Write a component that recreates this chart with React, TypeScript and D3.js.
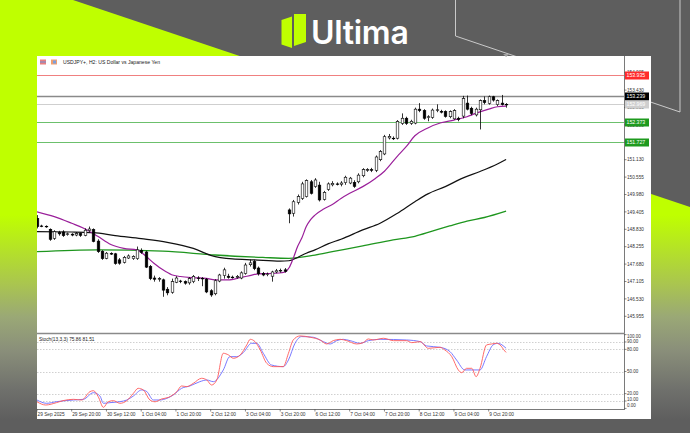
import React, { useEffect, useRef } from "react"
import * as d3 from "d3"

const WIDTH = 690
const HEIGHT = 433

// H2 bars from 29 Sep 04:00 to 10 Oct 04:00
const opens = [
    149.19, 148.94, 148.93, 148.83, 148.53, 148.72, 148.74, 148.66, 148.67, 148.64,
    148.69, 148.63, 148.79, 148.82, 148.44, 148.10, 147.87, 148.03, 148.02, 147.82,
    147.74, 147.88, 147.86, 147.86, 148.13, 148.08, 147.60, 147.22, 147.18, 147.16,
    146.85, 146.75, 147.08, 147.12, 147.10, 147.06, 147.10, 147.22, 147.21, 147.18,
    146.80, 146.70, 147.12, 147.30, 147.28, 147.25, 147.24, 147.22, 147.37, 147.66,
    147.76, 147.55, 147.37, 147.33, 147.28, 147.42, 147.45, 147.49, 149.47, 149.36,
    149.72, 149.85, 149.91, 150.40, 150.24, 150.29, 149.82, 150.15, 150.30, 150.33,
    150.32, 150.37, 150.36, 150.38, 150.40, 150.60, 150.79, 150.80, 150.78, 151.13,
    151.32, 151.85, 151.84, 151.84, 152.33, 152.50, 152.33, 152.34, 152.80, 152.75,
    152.52, 152.53, 152.76, 152.73, 152.72, 152.55, 152.48, 152.50, 152.57, 153.00,
    152.83, 152.61, 152.78, 153.08, 152.99, 153.21, 152.95, 153.00, 152.96,
]
const highs = [
    149.30, 148.98, 148.96, 148.86, 148.80, 148.78, 148.80, 148.72, 148.70, 148.74,
    148.72, 148.86, 148.92, 148.86, 148.50, 148.14, 148.08, 148.07, 148.05, 147.88,
    147.95, 148.00, 147.97, 148.26, 148.20, 148.12, 147.65, 147.30, 147.25, 147.20,
    146.92, 147.20, 147.28, 147.16, 147.14, 147.25, 147.32, 147.28, 147.25, 147.22,
    146.85, 147.18, 147.36, 147.56, 147.36, 147.30, 147.32, 147.44, 147.72, 147.83,
    147.82, 147.60, 147.42, 147.40, 147.46, 147.52, 147.53, 147.55, 149.52, 149.80,
    149.98, 150.40, 150.48, 150.46, 150.52, 150.40, 150.10, 150.38, 150.42, 150.38,
    150.42, 150.60, 150.56, 150.45, 150.68, 150.85, 150.85, 150.86, 151.27, 151.45,
    151.95, 151.98, 151.90, 152.44, 152.66, 152.55, 152.45, 152.85, 153.00, 152.80,
    152.60, 152.82, 152.96, 152.78, 152.76, 152.76, 152.80, 152.55, 153.24, 153.25,
    152.88, 152.85, 153.12, 153.22, 153.25, 153.24, 153.12, 153.27, 153.00,
]
const lows = [
    148.86, 148.90, 148.88, 148.45, 148.48, 148.62, 148.58, 148.62, 148.60, 148.60,
    148.58, 148.60, 148.75, 148.40, 148.05, 147.82, 147.84, 147.98, 147.66, 147.66,
    147.70, 147.85, 147.82, 147.82, 148.02, 147.55, 147.15, 147.10, 147.10, 146.60,
    146.65, 146.70, 147.05, 147.05, 147.00, 147.00, 147.05, 147.12, 146.95, 146.72,
    146.60, 146.65, 147.08, 147.20, 147.20, 147.20, 147.20, 147.18, 147.33, 147.60,
    147.48, 147.30, 147.28, 147.28, 147.10, 147.38, 147.40, 147.40, 149.03, 149.25,
    149.65, 149.80, 149.88, 149.98, 150.20, 149.75, 149.78, 150.10, 150.25, 150.28,
    150.25, 150.30, 150.32, 150.20, 150.35, 150.55, 150.73, 150.72, 150.72, 151.08,
    151.28, 151.80, 151.78, 151.80, 152.28, 152.28, 152.28, 152.30, 152.70, 152.45,
    152.40, 152.48, 152.70, 152.66, 152.52, 152.50, 152.45, 152.40, 152.50, 152.76,
    152.60, 152.56, 152.13, 152.96, 152.95, 153.05, 152.90, 152.92, 152.85,
]
const closes = [
    148.92, 148.93, 148.91, 148.50, 148.75, 148.68, 148.62, 148.68, 148.64, 148.69,
    148.63, 148.80, 148.84, 148.43, 148.09, 147.86, 148.04, 148.01, 147.70, 147.71,
    147.90, 147.95, 147.93, 148.15, 148.07, 147.58, 147.20, 147.18, 147.20, 146.82,
    146.73, 147.10, 147.22, 147.10, 147.05, 147.20, 147.27, 147.20, 147.19, 146.76,
    146.66, 147.13, 147.32, 147.49, 147.24, 147.24, 147.27, 147.39, 147.65, 147.72,
    147.53, 147.36, 147.32, 147.35, 147.42, 147.46, 147.47, 147.44, 149.34, 149.74,
    149.91, 150.33, 150.44, 150.02, 150.46, 149.80, 150.05, 150.33, 150.35, 150.32,
    150.36, 150.55, 150.52, 150.25, 150.62, 150.80, 150.80, 150.78, 151.22, 151.40,
    151.89, 151.90, 151.83, 152.39, 152.50, 152.33, 152.40, 152.80, 152.75, 152.50,
    152.55, 152.77, 152.78, 152.70, 152.56, 152.72, 152.75, 152.46, 153.15, 152.80,
    152.66, 152.80, 153.08, 153.02, 153.21, 153.10, 153.08, 152.95, 152.95,
]

// moving averages: [bar, price]
const maFast: [number, number][] = [
    [0, 149.41], [4, 149.25], [8, 149.03], [11, 148.85], [14, 148.6], [17, 148.33],
    [20, 148.2], [23, 148.15], [25, 147.95], [27, 147.7], [29, 147.49], [31, 147.33],
    [33, 147.27], [36, 147.23], [39, 147.21], [41, 147.16], [44, 147.16], [47, 147.24],
    [49, 147.3], [51, 147.36], [54, 147.37], [57, 147.41], [58, 147.55], [59, 147.87],
    [60, 148.26], [61, 148.55], [62, 148.92], [63, 149.15], [64, 149.3], [66, 149.5],
    [68, 149.65], [70, 149.85], [72, 150.02], [75, 150.24], [78, 150.52], [80, 150.75],
    [83, 151.25], [85, 151.56], [87, 151.92], [90, 152.18], [93, 152.35], [96, 152.44],
    [99, 152.55], [101, 152.66], [104, 152.8], [106, 152.88], [108, 152.9],
]
const maMid: [number, number][] = [
    [0, 148.75], [8, 148.74], [13, 148.72], [18, 148.62], [24, 148.52], [30, 148.4],
    [36, 148.2], [40, 147.97], [45, 147.85], [50, 147.82], [56, 147.78], [58, 147.79],
    [60, 147.9], [62, 148.04], [64, 148.15], [67, 148.35], [70, 148.5], [75, 148.81],
    [79, 149.03], [83, 149.36], [87, 149.74], [90, 150.0], [94, 150.24], [98, 150.52],
    [102, 150.74], [106, 150.99], [108, 151.14],
]
const maSlow: [number, number][] = [
    [0, 148.09], [14, 148.15], [29, 148.11], [41, 147.98], [52, 147.9], [58, 147.87],
    [64, 147.98], [68, 148.09], [75, 148.28], [82, 148.48], [87, 148.6], [91, 148.77],
    [95, 148.94], [99, 149.1], [103, 149.22], [108, 149.43],
]

// Stochastic (13,3,3): [bar, value]
const stochMain: [number, number][] = [
    [0, 9], [2, 4.6], [4.5, 7.8], [6, 10.5], [8.4, 12.3], [10.3, 11.4], [12.2, 22.7],
    [13, 24], [14.1, 15.9], [15.3, 1.4], [16.4, 9], [17.6, 10.5], [19.1, 6.9], [20.7, 10.5],
    [22.2, 20.4], [23.3, 27.2], [24.5, 25], [26, 11.4], [27.2, 9], [28.7, 12.8], [30.3, 15],
    [32.2, 22.7], [33.3, 30.4], [34.5, 29.5], [36, 34], [37.9, 40.8], [39.1, 38.5],
    [40.2, 31.7], [41.4, 38.5], [42.9, 74.7], [44.1, 72.4], [45.2, 67.9], [46.8, 72.4],
    [48.3, 86], [49.1, 93.6], [50.2, 90.5], [51.4, 79.2], [52.9, 61.1], [54.4, 56.6],
    [56.7, 56.6], [57.9, 74.7], [59, 92.7], [60.6, 98.2], [62.9, 96.4], [65.2, 92.7],
    [66.7, 87.3], [68.2, 91.8], [69.8, 93.6], [71.3, 91.8], [73.6, 87.3], [75.1, 89.1],
    [76.3, 94.1], [77.4, 92.7], [79.8, 95], [82.1, 91.8], [85.1, 91.8], [86.3, 89.1],
    [88.2, 90.5], [90.1, 81.4], [92.8, 82.8], [93.9, 79.2], [95.5, 70.1], [97, 52.1],
    [97.8, 48.4], [98.9, 54.3], [100.1, 54.3], [101.1, 43], [102, 54.3], [103.5, 86],
    [104.7, 87.3], [105.8, 88.2], [106.6, 86], [107.7, 77.8], [108, 75.86],
]
const stochSignal: [number, number][] = [
    [0, 11.4], [2.2, 6.9], [4.5, 9.1], [8.4, 11.4], [10.7, 12.3], [13, 21.3], [14.5, 16.8],
    [15.3, 6.9], [16.8, 7.8], [19.1, 9.1], [20.7, 11.4], [22.2, 16.8], [24.1, 25],
    [25.3, 22.7], [26.8, 11.4], [28.3, 11.4], [29.9, 13.6], [31.4, 18.2], [33.3, 27.2],
    [35.2, 30.4], [37.5, 36.2], [39.1, 38.5], [40.6, 36.2], [42.9, 52.1], [44.4, 70.1],
    [46, 70.1], [47.5, 75.6], [49.4, 88.2], [50.6, 88.2], [52.1, 74.7], [54, 58.8],
    [56.7, 56.6], [57.9, 65.6], [59.4, 88.2], [60.9, 97.3], [63.6, 96.4], [65.9, 90.5],
    [67.5, 87.3], [69, 91.8], [70.5, 93.6], [72.1, 91.8], [74.4, 88.2], [76.3, 91.8],
    [79, 93.6], [85.1, 92.7], [88.2, 90.5], [89.7, 84.6], [92.8, 82.8], [95.1, 76.9],
    [96.6, 65.6], [98.5, 52.1], [100.1, 52.1], [102, 52.1], [103.5, 70.1], [105, 86],
    [106.1, 88.2], [108, 81.51],
]

const priceTicks = [
    154.005, 153.43, 152.855, 152.28, 151.705, 151.13, 150.555, 149.98, 149.405,
    148.83, 148.255, 147.68, 147.105, 146.53, 145.955,
]
const stochTicks = [100, 90, 80, 50, 20, 10, 0]
const stochLevels = [90, 80, 50, 20, 10]

const timeBars = [0, 8, 16, 24, 32, 40, 48, 56, 64, 72, 80, 88, 96, 104]
const timeLabels = [
    "29 Sep 2025", "29 Sep 20:00", "30 Sep 12:00", "1 Oct 04:00", "1 Oct 20:00",
    "2 Oct 12:00", "3 Oct 04:00", "3 Oct 20:00", "6 Oct 12:00", "7 Oct 04:00",
    "7 Oct 20:00", "8 Oct 12:00", "9 Oct 04:00", "9 Oct 20:00",
]

// horizontal level lines with their tags on the price scale
const levelPrices = [153.935, 153.239, 152.969, 152.373, 151.727]
const levelLine = ["#f08080", "#8a8a8a", "#cfcfcf", "#6cc06c", "#6cc06c"]
const levelTag = ["#ff2a2a", "#000000", "#cfcfcf", "#1e9a1e", "#1e9a1e"]

const TITLE = "USDJPY+, H2: US Dollar vs Japanese Yen"
const STOCH_TITLE = "Stoch(13,3,3) 75.86 81.51"

const FONT = "'Liberation Sans', Arial, sans-serif"

const App: React.FC = () => {
    const svgRef = useRef<SVGSVGElement | null>(null)

    useEffect(() => {
        if (!svgRef.current) return
        const svg = d3.select(svgRef.current)
        svg.selectAll("*").remove()

        const panel = { left: 37, right: 651, top: 56, bottom: 419 }
        const axisX = 624
        const mainBottom = 333
        const stochTop = 334
        const stochBottom = 409

        // background
        const defs = svg.append("defs")
        const grad = defs
            .append("linearGradient")
            .attr("id", "lime")
            .attr("gradientUnits", "userSpaceOnUse")
            .attr("x1", 0).attr("y1", 0).attr("x2", 0).attr("y2", HEIGHT)
        const stops: [number, string][] = [
            [215, "#bfff00"], [283, "#aac64e"], [317, "#9aa876"],
            [350, "#8a8f7a"], [390, "#6f706c"], [420, "#5e5e5e"],
        ]
        stops.forEach(([y, c]) =>
            grad.append("stop").attr("offset", y / HEIGHT).attr("stop-color", c)
        )
        svg.append("rect").attr("width", WIDTH).attr("height", HEIGHT).attr("fill", "#5e5e5e")
        svg.append("path")
            .attr("d", `M0,0 L73,0 L${WIDTH},207 L${WIDTH},${HEIGHT} L0,${HEIGHT} Z`)
            .attr("fill", "url(#lime)")

        // thin outline decoration top right
        svg.append("path")
            .attr("d", "M455.5,0 L455.5,36 L680,112 L680,0")
            .attr("fill", "none")
            .attr("stroke", "#d6d6d6")
            .attr("stroke-width", 0.9)

        // logo
        const logo = svg.append("g")
        logo.append("path").attr("d", "M281.5,20 L292,16.5 L292,48 L281.5,44.5 Z").attr("fill", "#bfff00")
        logo.append("path").attr("d", "M294,14 L306,14 L306,42 L294,46 Z").attr("fill", "#bfff00")
        logo.append("text")
            .attr("x", 311).attr("y", 43.5)
            .attr("fill", "#ffffff")
            .attr("font-family", "Inter, 'Open Sans', sans-serif")
            .attr("font-weight", 600)
            .attr("font-size", 32)
            .attr("letter-spacing", -0.3)
            .text("Ultima")

        // white chart panel
        svg.append("rect")
            .attr("x", panel.left).attr("y", panel.top)
            .attr("width", panel.right - panel.left).attr("height", panel.bottom - panel.top)
            .attr("fill", "#ffffff")

        const x = d3.scaleLinear().domain([8, 104]).range([71.7, 488.7])
        const y = d3.scaleLinear().domain([145.955, 153.43]).range([316.3, 90.1])
        const ys = d3.scaleLinear().domain([0, 100]).range([408.4, 334.6])

        const chart = svg.append("g")

        // clip for main area
        defs.append("clipPath").attr("id", "mainClip")
            .append("rect").attr("x", panel.left).attr("y", panel.top)
            .attr("width", axisX - panel.left).attr("height", mainBottom - panel.top)
        defs.append("clipPath").attr("id", "stochClip")
            .append("rect").attr("x", panel.left).attr("y", stochTop)
            .attr("width", axisX - panel.left).attr("height", stochBottom - stochTop)

        const main = chart.append("g").attr("clip-path", "url(#mainClip)")

        // level lines
        levelPrices.forEach((p, i) => {
            main.append("line")
                .attr("x1", panel.left).attr("x2", axisX)
                .attr("y1", Math.round(y(p)) + 0.5).attr("y2", Math.round(y(p)) + 0.5)
                .attr("stroke", levelLine[i])
                .attr("stroke-width", i === 1 ? 1.3 : 1)
        })

        // moving averages
        const maLine = d3
            .line<[number, number]>()
            .x(d => x(d[0]))
            .y(d => y(d[1]))
            .curve(d3.curveMonotoneX)
        const maDefs: [[number, number][], string, number][] = [
            [maSlow, "#1e961e", 1.3],
            [maMid, "#111111", 1.2],
            [maFast, "#9a1f9a", 1.2],
        ]
        maDefs.forEach(([data, color, w]) => {
            main.append("path")
                .attr("d", maLine(data))
                .attr("fill", "none")
                .attr("stroke", color)
                .attr("stroke-width", w)
        })

        // candles
        const bw = 2.6
        const bars = d3.range(opens.length)
        const candle = main.selectAll("g.c").data(bars).enter().append("g")
        candle.append("line")
            .attr("x1", i => Math.round(x(i)) + 0.5)
            .attr("x2", i => Math.round(x(i)) + 0.5)
            .attr("y1", i => y(highs[i]))
            .attr("y2", i => y(lows[i]))
            .attr("stroke", "#000")
            .attr("stroke-width", 0.8)
        candle.append("rect")
            .attr("x", i => Math.round(x(i)) + 0.5 - bw / 2)
            .attr("y", i => y(Math.max(opens[i], closes[i])))
            .attr("width", bw)
            .attr("height", i => Math.max(0.6, Math.abs(y(opens[i]) - y(closes[i]))))
            .attr("fill", i => (closes[i] >= opens[i] ? "#ffffff" : "#000000"))
            .attr("stroke", "#000")
            .attr("stroke-width", 0.6)

        // shift marker
        chart.append("path")
            .attr("d", `M${x(108) - 3},${panel.top - 2} L${x(108) + 3},${panel.top - 2} L${x(108)},${panel.top + 1} Z`)
            .attr("fill", "#a0a0a0")

        // price axis
        chart.append("line")
            .attr("x1", axisX + 0.5).attr("x2", axisX + 0.5)
            .attr("y1", panel.top).attr("y2", stochBottom)
            .attr("stroke", "#7a7a7a").attr("stroke-width", 1)
        priceTicks.forEach(p => {
            const yy = y(p)
            chart.append("line")
                .attr("x1", axisX).attr("x2", axisX + 2.5)
                .attr("y1", yy).attr("y2", yy)
                .attr("stroke", "#555").attr("stroke-width", 0.7)
            chart.append("text")
                .attr("x", axisX + 3).attr("y", yy + 1.7)
                .attr("font-family", FONT).attr("font-size", 4.7)
                .attr("fill", "#333")
                .text(p.toFixed(3))
        })
        levelPrices.forEach((p, i) => {
            const yy = Math.round(y(p)) + 0.5
            chart.append("rect")
                .attr("x", axisX + 1).attr("y", yy - 4)
                .attr("width", 24).attr("height", 8)
                .attr("fill", levelTag[i])
            chart.append("text")
                .attr("x", axisX + 2.5).attr("y", yy + 1.8)
                .attr("font-family", FONT).attr("font-size", 5.2)
                .attr("fill", "#ffffff")
                .text(p.toFixed(3))
        })

        // title
        chart.append("rect").attr("x", 40).attr("y", 59.5).attr("width", 6).attr("height", 5).attr("fill", "#e88080")
        chart.append("rect").attr("x", 40).attr("y", 61.5).attr("width", 6).attr("height", 1).attr("fill", "#6a8fd8")
        chart.append("rect").attr("x", 51).attr("y", 59.5).attr("width", 6).attr("height", 5).attr("fill", "#f0a070")
        chart.append("rect").attr("x", 53).attr("y", 60.5).attr("width", 3).attr("height", 3).attr("fill", "#7aa0e0")
        chart.append("text")
            .attr("x", 63).attr("y", 64)
            .attr("font-family", FONT).attr("font-size", 5.1)
            .attr("fill", "#222")
            .text(TITLE)

        // separator between main and stochastic
        chart.append("line")
            .attr("x1", panel.left).attr("x2", axisX + 1)
            .attr("y1", mainBottom + 0.5).attr("y2", mainBottom + 0.5)
            .attr("stroke", "#8a8a8a").attr("stroke-width", 1.6)

        // stochastic panel
        const stoch = chart.append("g").attr("clip-path", "url(#stochClip)")
        stochLevels.forEach(v => {
            stoch.append("line")
                .attr("x1", panel.left).attr("x2", axisX)
                .attr("y1", Math.round(ys(v)) + 0.5).attr("y2", Math.round(ys(v)) + 0.5)
                .attr("stroke", "#c4c4c4")
                .attr("stroke-width", 0.8)
                .attr("stroke-dasharray", "1.5,1.5")
        })
        const stLine = d3
            .line<[number, number]>()
            .x(d => x(d[0]))
            .y(d => ys(d[1]))
            .curve(d3.curveMonotoneX)
        stoch.append("path")
            .attr("d", stLine(stochSignal))
            .attr("fill", "none").attr("stroke", "#6a6aff").attr("stroke-width", 0.9)
        stoch.append("path")
            .attr("d", stLine(stochMain))
            .attr("fill", "none").attr("stroke", "#ff5a5a").attr("stroke-width", 0.9)
        chart.append("text")
            .attr("x", 39).attr("y", 341)
            .attr("font-family", FONT).attr("font-size", 4.8)
            .attr("fill", "#222")
            .text(STOCH_TITLE)

        // label positions nudged apart where the ticks crowd together
        const stochLabelY: Record<number, number> = { 100: 336.5, 90: 341.5, 0: 405 }
        stochTicks.forEach(v => {
            const yy = ys(v)
            const ty = stochLabelY[v] ?? (v === 10 ? yy - 1.5 : yy)
            chart.append("line")
                .attr("x1", axisX).attr("x2", axisX + 2.5)
                .attr("y1", yy).attr("y2", yy)
                .attr("stroke", "#555").attr("stroke-width", 0.7)
            chart.append("text")
                .attr("x", axisX + 3).attr("y", ty + 1.6)
                .attr("font-family", FONT).attr("font-size", 4.5)
                .attr("fill", "#333")
                .text(v.toFixed(2))
        })

        // time axis
        chart.append("line")
            .attr("x1", panel.left).attr("x2", axisX + 1)
            .attr("y1", stochBottom + 0.5).attr("y2", stochBottom + 0.5)
            .attr("stroke", "#7a7a7a").attr("stroke-width", 1)
        timeBars.forEach((b, i) => {
            const xx = Math.max(panel.left, x(b))
            chart.append("line")
                .attr("x1", xx).attr("x2", xx)
                .attr("y1", stochBottom).attr("y2", stochBottom + 2.5)
                .attr("stroke", "#555").attr("stroke-width", 0.7)
            chart.append("text")
                .attr("x", xx + 0.5).attr("y", stochBottom + 7)
                .attr("font-family", FONT).attr("font-size", 4.8)
                .attr("fill", "#333")
                .text(timeLabels[i])
        })
    }, [])

    return (
        <svg
            ref={svgRef}
            width={WIDTH}
            height={HEIGHT}
            style={{ position: "absolute", left: 0, top: 0 }}
        />
    )
}

export default App
